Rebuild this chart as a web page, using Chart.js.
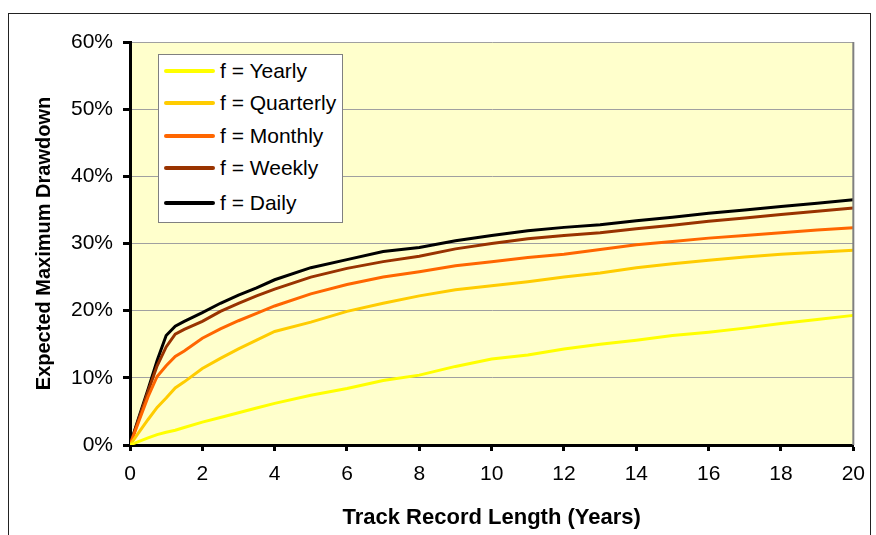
<!DOCTYPE html>
<html>
<head>
<meta charset="utf-8">
<script src="https://cdn.jsdelivr.net/npm/chart.js@4"></script>
<style>
  html, body { margin: 0; padding: 0; background: #fff; overflow: hidden; }
  #frame { position: absolute; left: 8px; top: 13px; width: 863px; height: 560px; border: 1px solid #222; box-sizing: border-box; }
  #chart { position: absolute; left: 0; top: 0; }
  #legend { position: absolute; left: 158px; top: 54px; width: 185px; height: 169px; background: #fff;
            border: 1px solid #808080; box-sizing: border-box; font-family: 'Liberation Sans', Arial, sans-serif; font-size: 21px; }
  .row { position: absolute; left: 0; height: 26px; display: flex; align-items: center; }
  .swatch { width: 51px; height: 4px; margin-left: 5px; margin-right: 5px; border-radius: 2px; }
</style>
</head>
<body>
<div id="frame"></div>
<canvas id="chart" width="876" height="535"></canvas>
<div id="legend"></div>
<script>
// Track record length (years)
const years = [0, 0.25, 0.5, 0.75, 1, 1.25, 1.5, 2, 2.5, 3, 3.5, 4, 5, 6, 7, 8, 9, 10, 11, 12, 13, 14, 15, 16, 17, 18, 19, 20];

// Expected max drawdown (%) per sampling frequency
const yearly    = [0, 0.55, 1.05, 1.55, 1.9, 2.2, 2.6, 3.4, 4.1, 4.8, 5.5, 6.2, 7.4, 8.4, 9.6, 10.4, 11.7, 12.8, 13.4, 14.3, 15.0, 15.6, 16.3, 16.8, 17.4, 18.1, 18.7, 19.3];
const quarterly = [0, 1.9, 3.8, 5.6, 7.0, 8.5, 9.4, 11.4, 12.9, 14.3, 15.6, 16.9, 18.3, 19.9, 21.1, 22.2, 23.1, 23.7, 24.3, 25.0, 25.6, 26.4, 27.0, 27.5, 28.0, 28.4, 28.7, 29.0];
const monthly   = [0, 3.6, 7.2, 10.2, 11.8, 13.2, 14.0, 15.9, 17.3, 18.5, 19.6, 20.7, 22.5, 23.9, 25.0, 25.8, 26.7, 27.3, 27.9, 28.4, 29.1, 29.8, 30.3, 30.8, 31.2, 31.6, 32.0, 32.35];
const weekly    = [0, 4.0, 8.0, 11.8, 14.6, 16.5, 17.2, 18.4, 19.9, 21.1, 22.2, 23.2, 25.0, 26.3, 27.3, 28.1, 29.2, 30.0, 30.7, 31.2, 31.6, 32.2, 32.7, 33.3, 33.8, 34.3, 34.8, 35.3];
const daily     = [0, 4.2, 8.3, 12.6, 16.3, 17.7, 18.4, 19.7, 21.1, 22.3, 23.4, 24.6, 26.4, 27.6, 28.8, 29.4, 30.4, 31.2, 31.9, 32.4, 32.8, 33.4, 33.9, 34.5, 35.0, 35.5, 36.0, 36.5];

const seriesNames = ['f = Yearly', 'f = Quarterly', 'f = Monthly', 'f = Weekly', 'f = Daily'];
const seriesData = [yearly, quarterly, monthly, weekly, daily];
const seriesColors = ['#FFFF00', '#FFCC00', '#FF6600', '#993300', '#000000'];

const yTicks = [0, 10, 20, 30, 40, 50, 60];
const xTicks = [0, 2, 4, 6, 8, 10, 12, 14, 16, 18, 20];

const FONT = "'Liberation Sans', Arial, sans-serif";

// plot area background + right border
const plotFrame = {
    id: 'plotFrame',
    beforeDraw(chart) {
        const { ctx, chartArea: a } = chart;
        ctx.save();
        ctx.fillStyle = '#FFFFCC';
        ctx.fillRect(a.left, a.top, a.right - a.left, a.bottom - a.top);
        ctx.restore();
    },
    afterDatasetsDraw(chart) {
        const { ctx, chartArea: a } = chart;
        ctx.save();
        ctx.strokeStyle = '#808080';
        ctx.lineWidth = 2;
        ctx.beginPath();
        ctx.moveTo(a.right, a.top);
        ctx.lineTo(a.right, a.bottom);
        ctx.stroke();
        ctx.restore();
    }
};

const datasets = seriesNames.map((name, i) => ({
    label: name,
    data: years.map((x, j) => ({ x: x, y: seriesData[i][j] })),
    borderColor: seriesColors[i],
    backgroundColor: seriesColors[i],
    borderWidth: 3,
    pointRadius: 0,
    tension: 0,
    fill: false
}));

const ctx = document.getElementById('chart').getContext('2d');
new Chart(ctx, {
    type: 'line',
    data: { datasets: datasets },
    plugins: [plotFrame],
    options: {
        responsive: false,
        animation: false,
        layout: { padding: { top: 42, right: 21, bottom: 0, left: 0 } },
        plugins: { legend: { display: false }, tooltip: { enabled: false } },
        scales: {
            x: {
                type: 'linear',
                min: 0, max: 20,
                afterFit: (s) => { s.height = 90; },
                afterBuildTicks: (s) => { s.ticks = xTicks.map(v => ({ value: v })); },
                ticks: { color: '#000', padding: 11, font: { family: FONT, size: 21 } },
                grid: { drawOnChartArea: false, drawTicks: true, tickLength: 6, tickColor: '#000', tickWidth: 3 },
                border: { display: true, color: '#000', width: 3 },
                title: { display: true, text: 'Track Record Length (Years)', color: '#000',
                         font: { family: FONT, size: 22, weight: 'bold' }, padding: { top: 0, bottom: 4 } }
            },
            y: {
                min: 0, max: 60,
                afterFit: (s) => { s.width = 130; },
                afterBuildTicks: (s) => { s.ticks = yTicks.map(v => ({ value: v })); },
                ticks: { color: '#000', padding: 10, font: { family: FONT, size: 21 }, callback: (v) => v + '%' },
                grid: { color: '#A0A0A0', lineWidth: 1, drawTicks: true, tickLength: 7, tickColor: '#000', tickWidth: 3 },
                border: { display: true, color: '#000', width: 3 },
                title: { display: true, text: 'Expected Maximum Drawdown', color: '#000',
                         font: { family: FONT, size: 20, weight: 'bold' }, padding: { top: 32, bottom: 0 } }
            }
        }
    }
});

// legend box inside the plot
const legend = document.getElementById('legend');
const rowTops = [3, 35, 68, 100, 135];
seriesNames.forEach((name, i) => {
    const row = document.createElement('div');
    row.className = 'row';
    row.style.top = rowTops[i] + 'px';
    row.innerHTML = `<span class="swatch" style="background:${seriesColors[i]}"></span><span>${name}</span>`;
    legend.appendChild(row);
});
</script>
</body>
</html>
